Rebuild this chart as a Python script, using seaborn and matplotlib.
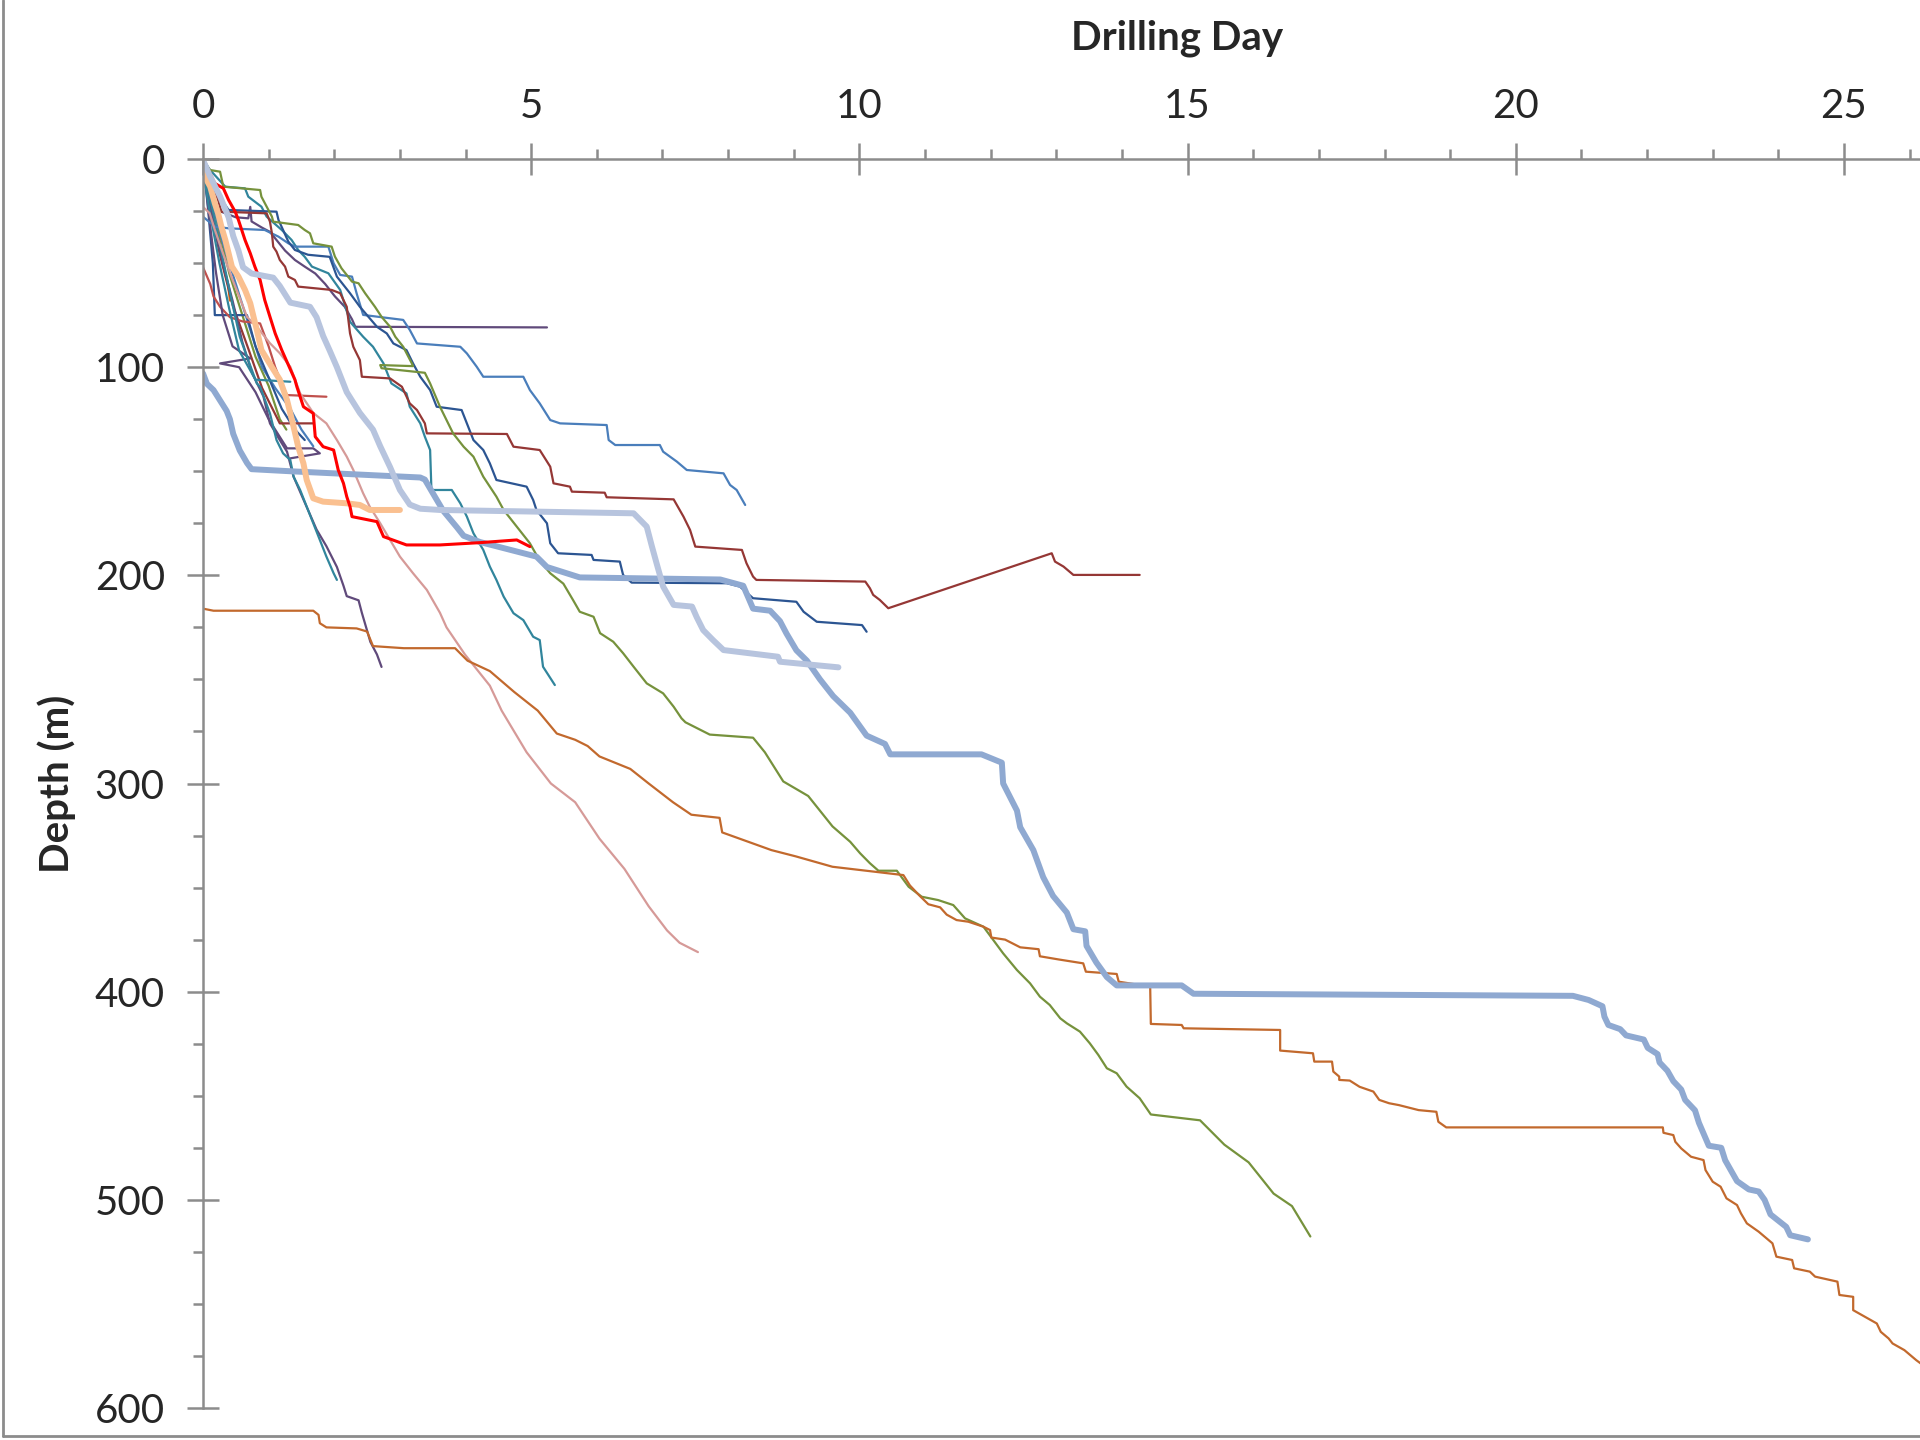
import matplotlib
matplotlib.use("Agg")
import matplotlib.pyplot as plt
from matplotlib.ticker import MultipleLocator
from matplotlib.lines import Line2D
import seaborn as sns
import pandas as pd

# ---------------- data (day, depth m) ----------------
w_blue_thick = [(0,103),(0.06,108),(0.16,111),(0.26,116),(0.36,121),(0.41,125),(0.46,132),(0.56,140),(0.67,146),(0.74,149),
    (1.33,150),(3.31,153),(3.38,154),(3.51,161),(3.66,169),(3.87,177),(3.97,181),(4.22,184),(5.08,191),(5.24,196),(5.74,201),
    (7.88,202),(8.23,205),(8.38,216),(8.64,217),(8.79,222),(8.89,228),(9.04,236),(9.20,241),(9.40,250),(9.60,258),(9.86,266),
    (10.11,277),(10.39,281),(10.47,286),(11.86,286),(12.17,290),(12.19,300),(12.40,313),(12.45,321),(12.65,332),(12.80,345),
    (12.95,354),(13.16,362),(13.26,370),(13.44,371),(13.46,378),(13.61,386),(13.77,393),(13.92,397),(14.91,397),(15.09,401),
    (20.87,402),(21.11,404),(21.32,407),(21.35,412),(21.41,416),(21.59,418),(21.68,421),(21.95,423),(22.01,427),(22.16,430),
    (22.19,434),(22.31,438),(22.40,443),(22.52,447),(22.58,452),(22.73,457),(22.79,463),(22.94,474),(23.13,475),(23.19,481),
    (23.28,486),(23.37,491),(23.55,495),(23.70,496),(23.79,500),(23.88,507),(24.12,513),(24.18,517),(24.45,519)]

w_orange_long = [(0,216),(0.16,217),(1.68,217),(1.76,219),(1.78,223),(1.88,225),(2.34,225.5),(2.5,227),(2.59,234),(3.06,235),
    (3.84,235),(4.03,241),(4.37,246),(4.74,256),(5.1,265),(5.39,276),(5.67,279),(5.86,282),(6.04,287),(6.51,293),(6.79,300),
    (7.16,309),(7.44,315),(7.87,316.5),(7.91,323.5),(8.66,332),(9.03,335),(9.59,340),(9.86,341),(10.67,344),(10.77,349),
    (10.92,354),(11.05,358),(11.23,359.5),(11.33,363),(11.48,365.6),(11.66,366.4),(11.89,368.8),(11.99,370.4),(12.01,374),
    (12.22,375),(12.45,378.7),(12.73,379.6),(12.75,383),(13.03,384.5),(13.41,386.4),(13.45,390.4),(13.92,391.5),(13.95,395.2),
    (14.43,397.6),(14.44,415.5),(14.91,416),(14.94,417.6),(16.41,418.4),(16.41,428.3),(16.91,429.6),(16.93,433.6),(17.20,433.6),
    (17.22,438.4),(17.31,440.8),(17.31,442.4),(17.47,442.7),(17.62,445.7),(17.83,448),(17.92,452),(18.07,453.6),(18.22,454.5),
    (18.52,456.9),(18.79,457.7),(18.82,462.5),(18.94,465.2),(22.24,465.2),(22.25,467.8),(22.40,468.9),(22.43,472.1),
    (22.52,475.3),(22.67,479.3),(22.86,480.9),(22.89,485.7),(23.0,491.3),(23.12,493.7),(23.21,499.3),(23.37,502.5),
    (23.43,506.5),(23.52,511.3),(23.70,515.3),(23.91,520.9),(23.97,527.3),(24.21,528.9),(24.24,532.9),(24.48,534.5),
    (24.56,536.9),(24.90,539.3),(24.93,545.7),(25.14,546.6),(25.14,553),(25.32,556.2),(25.50,559.4),(25.56,563.4),
    (25.68,566.6),(25.74,569),(25.92,572.2),(26.1,577),(26.4,584)]

w_olive_long = [(0,1.3),(0.11,5.3),(0.26,6.1),(0.31,13.3),(0.87,14.9),(0.89,18.1),(0.97,22.9),(1.05,27.7),(1.07,30.1),
    (1.45,31.7),(1.55,34.1),(1.63,35.7),(1.68,40.5),(1.96,42.1),(2.01,46.9),(2.11,52.5),(2.27,58.9),(2.37,59.7),(2.47,64.5),
    (2.62,71),(2.72,75.8),(2.85,80.6),(2.93,85.4),(3.05,90.2),(3.18,98.1),(3.2,99.5),(2.7,99),(2.72,100.5),(3.38,102.7),
    (3.46,107.8),(3.61,119),(3.81,131.8),(3.97,138.2),(4.12,143),(4.27,152.6),(4.47,162.2),(4.58,168.6),(4.78,176.6),
    (4.98,184.6),(5.13,193),(5.29,199),(5.49,204),(5.64,212),(5.74,217.5),(5.95,219.9),(6.05,227.8),(6.25,231.9),(6.40,237.4),
    (6.56,243.9),(6.76,251.9),(7.01,256.7),(7.17,263.1),(7.29,268.7),(7.35,270.6),(7.72,276.5),(8.38,278),(8.56,285),
    (8.84,299),(9.22,306),(9.59,320.6),(9.86,328),(10.01,333.5),(10.16,338.3),(10.29,341.9),(10.57,341.9),(10.75,349.6),
    (10.95,354.4),(11.20,356),(11.43,358.4),(11.61,364.8),(11.89,368.8),(12.04,375.2),(12.19,381.6),(12.40,389.6),
    (12.60,396),(12.75,402.4),(12.90,406.4),(13.06,412.8),(13.16,415.2),(13.36,419.2),(13.51,424.8),(13.64,430.4),
    (13.77,436.8),(13.92,439.2),(14.07,445.6),(14.27,451.2),(14.44,459),(15.19,461.8),(15.56,473.5),(15.93,482),
    (16.31,497),(16.59,503),(16.87,517.6)]

w_rosy = [(0,23),(0.1,26),(0.18,34),(0.3,45),(0.45,58),(0.6,70),(0.67,75.8),(0.82,80.6),(1.02,88.5),(1.17,93.3),(1.33,99.8),
    (1.48,112.6),(1.68,122),(1.88,127),(2.04,135),(2.19,143),(2.29,149.4),(2.44,160.6),(2.54,167),(2.70,175),(2.85,183),
    (3.0,191),(3.20,199),(3.41,207),(3.61,218),(3.71,225),(3.99,238),(4.37,253),(4.55,265),(4.93,285),(5.3,300),(5.67,309),
    (6.04,326.5),(6.42,341),(6.79,359),(7.07,370.6),(7.26,376.5),(7.54,381)]

w_lightblue_thick = [(0,0.5),(0.11,8.5),(0.26,18),(0.39,28),(0.46,37),(0.54,44),(0.61,52),(0.74,55),(1.07,57),(1.17,61),
    (1.33,69),(1.63,71),(1.73,76),(1.83,85),(1.93,92),(2.04,100),(2.19,112),(2.39,122),(2.59,130),(2.70,138),(2.85,148),
    (3.0,159),(3.15,166),(3.31,168),(3.61,168.6),(6.56,170.2),(6.76,176.6),(6.84,186.2),(6.91,194.2),(7.01,205.4),
    (7.17,214.2),(7.45,215),(7.52,220),(7.62,226.3),(7.77,231.1),(7.93,235.9),(8.76,239.1),(8.79,241.5),(9.68,244.2)]

w_lightorange_thick = [(0,0),(0.03,8.5),(0.11,13.3),(0.18,21.3),(0.23,26.1),(0.28,32.5),(0.34,38.9),(0.39,45.3),(0.44,51.7),
    (0.54,56.5),(0.64,62.9),(0.72,69.3),(0.77,75.8),(0.82,82.1),(0.89,91.8),(1.05,100),(1.17,106),(1.28,115.8),(1.38,128.6),
    (1.45,138.2),(1.53,146.2),(1.58,154.2),(1.68,163),(1.83,164.6),(2.19,165.4),(2.39,166.2),(2.54,168.6),(3.0,168.6)]

w_red = [(0,0),(0.18,11.7),(0.31,14.1),(0.39,19.7),(0.49,25.3),(0.54,29.3),(0.59,34.1),(0.64,38.9),(0.72,45.3),(0.79,51.7),
    (0.87,58.1),(0.94,67.7),(1.02,75.8),(1.10,83.8),(1.20,91.8),(1.40,106),(1.43,109.4),(1.53,119),(1.68,122.2),(1.71,133.4),
    (1.83,138.2),(1.99,139.8),(2.06,149.4),(2.14,155.8),(2.19,162.2),(2.24,167),(2.27,171.8),(2.65,174.2),(2.75,181.4),
    (3.10,185.4),(3.61,185.4),(4.22,184.3),(4.78,183),(4.98,186.2)]

w_maroon = [(0,0),(0.1,8),(0.23,19.7),(0.28,25.3),(0.97,26.1),(1.02,30.1),(1.05,35.7),(1.07,42.1),(1.12,44.5),(1.17,48.5),
    (1.25,51.7),(1.30,56.5),(1.40,58.1),(1.45,61.3),(1.96,62.9),(2.09,64.5),(2.19,71),(2.24,83.8),(2.29,90.2),(2.39,96.6),
    (2.42,104.6),(2.85,105.4),(3.03,109.4),(3.15,117.4),(3.26,120.6),(3.38,127),(3.41,131.8),(4.63,132.1),(4.73,138.2),
    (5.13,139.8),(5.29,147.8),(5.34,155.8),(5.59,157.4),(5.62,159.8),(6.12,160.3),(6.15,162.5),(7.17,163.5),(7.32,171.8),
    (7.42,178.2),(7.50,186.2),(8.21,187.8),(8.28,194.2),(8.38,200.6),(8.43,202.2),(10.09,203),(10.16,206.2),(10.21,209.4),
    (10.31,211.8),(10.44,215.8),(12.93,189.4),(12.98,193.4),(13.11,195.8),(13.26,199.8),(14.27,199.8)]

w_navy = [(0,0),(0.1,8),(0.25,18),(0.39,24.5),(1.12,25.3),(1.15,29.3),(1.22,34.1),(1.30,39.7),(1.40,43.7),(1.6,46),(1.93,47),
    (2.04,56.5),(2.24,64.5),(2.39,71),(2.65,80.6),(2.80,83.8),(2.90,88.6),(3.10,91.8),(3.20,98.2),(3.31,104.6),(3.46,111),
    (3.56,119),(3.94,120.6),(4.02,127),(4.12,135),(4.27,139.8),(4.37,146.2),(4.47,154.2),(4.93,157.4),(5.03,163.8),
    (5.08,168.6),(5.24,175),(5.29,184.6),(5.41,189.4),(5.92,190.2),(5.95,192.6),(6.35,193.4),(6.40,199.8),(6.53,203.5),
    (7.98,203.8),(8.18,205.4),(8.38,211),(9.04,212.7),(9.15,217.5),(9.35,222.3),(10.04,223.9),(10.11,227.1)]

w_blue = [(0,27.7),(0.18,32.5),(0.39,33.3),(0.94,34.1),(1.15,37.3),(1.30,40.5),(1.40,42.1),(1.91,42.1),(1.99,50.1),(2.09,55.7),
    (2.27,56.5),(2.34,64.5),(2.44,74.9),(3.05,77.3),(3.15,82.1),(3.26,88.6),(3.92,90.2),(4.02,93.4),(4.17,99.8),(4.27,104.6),
    (4.88,104.6),(4.98,111),(5.13,117.4),(5.29,125.4),(5.44,127),(6.15,127.8),(6.18,135),(6.28,137.4),(6.96,137.4),(7.01,140.6),
    (7.22,145.4),(7.37,149.4),(7.93,151),(8.03,156.6),(8.13,159),(8.26,166.2)]

w_teal_a = [(0,0),(0.1,5),(0.34,13.3),(0.64,14.1),(0.69,18.1),(0.89,22.9),(0.97,27.7),(1.2,34.1),(1.35,38.9),(1.45,43.7),
    (1.55,47),(1.66,51.7),(1.91,54.9),(2.09,62.9),(2.24,78.2),(2.44,85.4),(2.59,90.2),(2.75,98.2),(2.87,107.8),(3.10,112.6),
    (3.15,119),(3.31,127),(3.38,133.4),(3.46,139.8),(3.48,159),(3.79,159),(3.92,165.4),(4.02,171.8),(4.12,179.8),(4.27,187.8),
    (4.37,195.8),(4.47,202.2),(4.58,210.2),(4.73,218.2),(4.88,221.5),(5.03,229.5),(5.13,231.1),(5.18,243.9),(5.36,252.7)]

w_teal_b = [(0,0),(0.05,10),(0.15,25),(0.25,40),(0.35,55),(0.45,70),(0.56,85.4),(0.67,95),(0.82,107.8),(0.87,109.4),
    (1.02,122.2),(1.12,135),(1.22,141.4),(1.33,144.6),(1.38,152.6),(1.48,159),(1.58,167),(1.68,175),(1.78,183),(1.88,191),
    (1.99,199),(2.04,202.2)]

w_teal_c = [(0,5),(0.1,25),(0.25,50),(0.4,72),(0.55,92),(0.8,106),(1.33,107)]

w_purple_a = [(0,0),(0.05,12),(0.15,30),(0.3,50),(0.45,68),(0.6,88),(0.75,103),(0.92,114),(1.02,127),(1.17,135),(1.28,140.6),
    (1.38,152.6),(1.55,165),(1.73,178),(1.88,186),(2.04,196),(2.14,205),(2.19,210),(2.37,212),(2.42,218),(2.49,225.5),
    (2.55,232),(2.65,238),(2.72,244)]

w_purple_b = [(0,0),(0.03,10),(0.1,18),(0.25,25),(0.5,28),(0.69,28.5),(0.72,23),(0.74,30),(0.9,33),(1.02,35),(1.25,44),
    (1.4,48.5),(1.55,51.7),(1.71,55),(1.86,60),(2.01,66),(2.16,71),(2.27,77),(2.32,80.6),(5.24,80.9)]

w_purple_c = [(0,0),(0.05,15),(0.12,35),(0.2,55),(0.3,75),(0.45,90),(0.72,95.8),(0.26,98.2),(0.55,100),(0.8,112),(1.0,125),
    (1.2,135),(1.28,139),(1.68,139),(1.78,141.4),(1.33,143.8)]

w_brickred = [(0,52),(0.11,60),(0.16,66),(0.26,71),(0.41,76),(0.6,78),(0.87,79),(1.0,90),(1.1,100),(1.2,108),(1.28,113.4),
    (1.88,114.2)]

w_navy_b = [(0,0),(0.08,25),(0.15,50),(0.18,75),(0.67,75),(0.8,90),(1.0,105),(1.2,120),(1.4,130),(1.55,135)]

w_orange_short = [(0,0),(0.1,8),(0.14,12),(0.2,25),(0.25,38),(0.3,50),(0.38,60),(0.41,68)]

w_blue_b = [(0,0),(0.1,15),(0.3,40),(0.5,60),(0.7,80),(0.9,100),(1.1,110),(1.33,120),(1.5,130),(1.68,138)]

w_olive_b = [(0,0),(0.1,15),(0.25,35),(0.4,55),(0.6,75),(0.8,95),(1.0,109),(1.17,125),(1.27,130)]

w_maroon_b = [(0,0),(0.1,20),(0.25,45),(0.45,70),(0.7,92),(0.9,110),(1.17,127),(1.68,127)]

x_ticks = [0, 5, 10, 15, 20, 25]
y_ticks = [0, 100, 200, 300, 400, 500, 600]

# ---------------- styling ----------------
thin = 1.6
series = [
    (w_orange_short, "#E46C0A", thin),
    (w_olive_b, "#77933C", thin),
    (w_blue_b, "#4A7EBB", thin),
    (w_maroon_b, "#953735", thin),
    (w_navy_b, "#2C5592", thin),
    (w_brickred, "#C0504D", thin),
    (w_purple_c, "#604A7B", thin),
    (w_purple_b, "#604A7B", thin),
    (w_purple_a, "#604A7B", thin),
    (w_teal_c, "#31859C", thin),
    (w_teal_b, "#31859C", thin),
    (w_teal_a, "#31859C", thin),
    (w_blue, "#4A7EBB", thin),
    (w_navy, "#2C5592", thin),
    (w_maroon, "#953735", thin),
    (w_rosy, "#D69A98", thin),
    (w_olive_long, "#76923C", thin),
    (w_orange_long, "#C2692D", thin),
    (w_blue_thick, "#8FA9D1", 4.3),
    (w_lightorange_thick, "#FAC090", 4.3),
    (w_red, "#FF0000", 2.2),
    (w_lightblue_thick, "#B7C4DE", 4.3),
]

sns.set_style("white")
plt.rcParams["font.family"] = ["Lato", "DejaVu Sans"]

fig = plt.figure(figsize=(19.2, 14.4), dpi=100)
ax = fig.add_axes([203 / 1920, 32 / 1440, 30 * 65.64 / 1920, 1249 / 1440])

for pts, col, lw in series:
    df = pd.DataFrame(pts, columns=["day", "depth"])
    sns.lineplot(data=df, x="day", y="depth", sort=False, estimator=None, color=col,
                 linewidth=lw, ax=ax, solid_capstyle="round", solid_joinstyle="round")

ax.set_xlim(0, 30)
ax.set_ylim(600, 0)
ax.xaxis.tick_top()
ax.xaxis.set_label_position("top")
ax.set_xticks(x_ticks)
ax.set_xticklabels([str(v) for v in x_ticks])
ax.set_yticks(y_ticks)
ax.set_yticklabels([str(v) for v in y_ticks])
ax.xaxis.set_minor_locator(MultipleLocator(1))
ax.yaxis.set_minor_locator(MultipleLocator(25))

gray = "#8C8C8C"
ax.tick_params(axis="x", which="major", direction="inout", length=23, width=1.8, color=gray,
               labelsize=29, pad=13, top=True, bottom=False, labeltop=True, labelbottom=False)
ax.tick_params(axis="x", which="minor", direction="out", length=7.5, width=1.8, color=gray,
               top=True, bottom=False)
ax.tick_params(axis="y", which="major", direction="inout", length=23, width=1.8, color=gray,
               labelsize=29, pad=16, left=True, right=False)
ax.tick_params(axis="y", which="minor", direction="out", length=7.5, width=1.8, color=gray,
               left=True, right=False)

for side in ["right", "bottom"]:
    ax.spines[side].set_visible(False)
for side in ["left", "top"]:
    ax.spines[side].set_color(gray)
    ax.spines[side].set_linewidth(1.8)

ax.set_xlabel("Drilling Day", fontsize=29, fontweight="bold")
ax.xaxis.label.set_va("center")
ax.xaxis.set_label_coords(0.4947, 1.097)
ax.set_ylabel("Depth (m)", fontsize=29, fontweight="bold")
ax.yaxis.label.set_va("center")
ax.yaxis.label.set_ha("center")
ax.yaxis.set_label_coords(-0.0745, 0.5)

fig.add_artist(Line2D([3 / 1920, 3 / 1920], [4 / 1440, 1.0], transform=fig.transFigure, color=gray, lw=2))
fig.add_artist(Line2D([3 / 1920, 1.0], [4 / 1440, 4 / 1440], transform=fig.transFigure, color=gray, lw=2))

fig.savefig("out.png", dpi=100)
